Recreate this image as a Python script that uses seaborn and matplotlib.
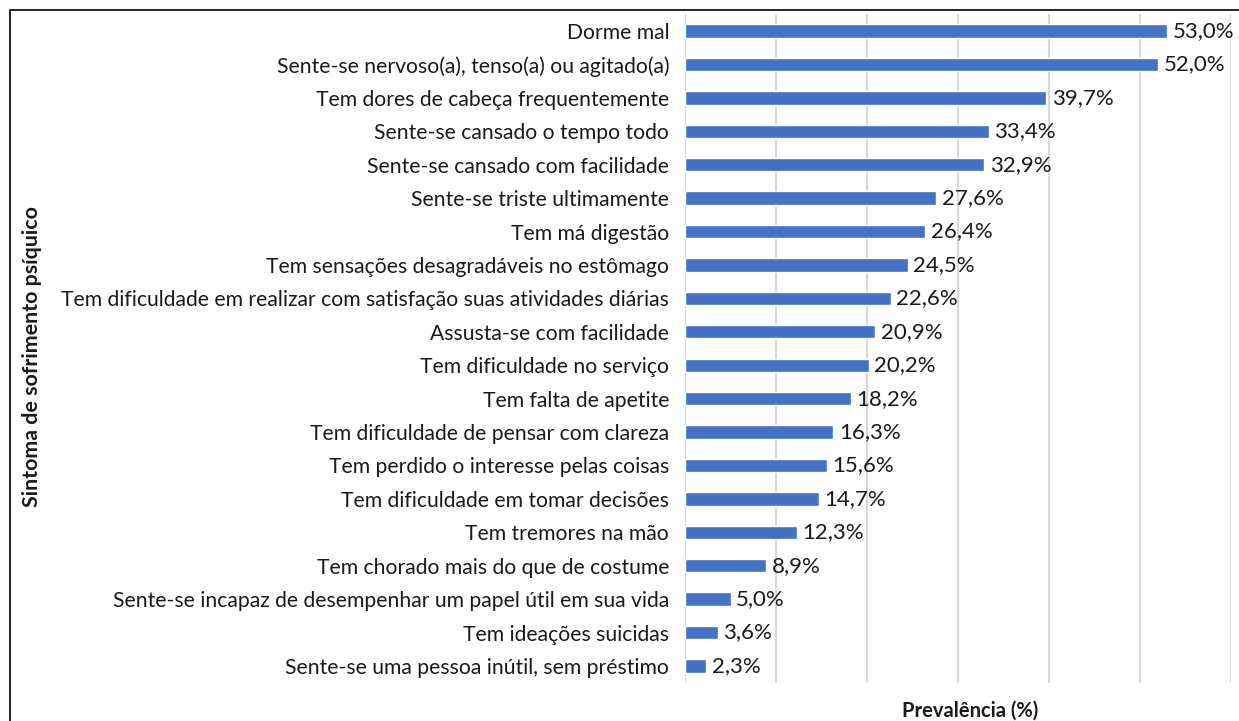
import matplotlib
matplotlib.use('Agg')
import matplotlib.pyplot as plt
import seaborn as sns
import pandas as pd
from matplotlib.patches import Rectangle

sintomas = [
    'Dorme mal',
    'Sente-se nervoso(a), tenso(a) ou agitado(a)',
    'Tem dores de cabeça frequentemente',
    'Sente-se cansado o tempo todo',
    'Sente-se cansado com facilidade',
    'Sente-se triste ultimamente',
    'Tem má digestão',
    'Tem sensações desagradáveis no estômago',
    'Tem dificuldade em realizar com satisfação suas atividades diárias',
    'Assusta-se com facilidade',
    'Tem dificuldade no serviço',
    'Tem falta de apetite',
    'Tem dificuldade de pensar com clareza',
    'Tem perdido o interesse pelas coisas',
    'Tem dificuldade em tomar decisões',
    'Tem tremores na mão',
    'Tem chorado mais do que de costume',
    'Sente-se incapaz de desempenhar um papel útil em sua vida',
    'Tem ideações suicidas',
    'Sente-se uma pessoa inútil, sem préstimo',
]
prevalencia = [53.0, 52.0, 39.7, 33.4, 32.9, 27.6, 26.4, 24.5, 22.6, 20.9,
               20.2, 18.2, 16.3, 15.6, 14.7, 12.3, 8.9, 5.0, 3.6, 2.3]

df = pd.DataFrame({'sintoma': sintomas, 'prev': prevalencia})

sns.set_theme(style='white')
plt.rcParams['font.family'] = ['Lato', 'DejaVu Sans']

fig = plt.figure(figsize=(12.39, 7.21), dpi=100)
ax = fig.add_axes([0.553, 0.0531, 0.4405, 0.9271])

sns.barplot(data=df, x='prev', y='sintoma', orient='h', color='#4472C4',
            saturation=1, width=0.4, ax=ax)

ax.set_xlim(0, 60)
ax.set_ylim(len(sintomas) - 0.5, -0.5)
ax.set_xticks(range(0, 61, 10))
ax.set_xticklabels([])
ax.xaxis.grid(True, color='#D9D9D9', linewidth=1.5)
ax.set_axisbelow(True)
for s in ax.spines.values():
    s.set_visible(False)
ax.tick_params(axis='y', length=0, pad=11.5, labelsize=15.2, labelcolor='#1a1a1a')
ax.tick_params(axis='x', length=0)
ax.set_xlabel('')
ax.set_ylabel('')

# value labels, comma as decimal separator
for i, v in enumerate(prevalencia):
    ax.text(v + 0.6, i, f'{v:.1f}%'.replace('.', ','), va='center', ha='left',
            fontsize=16, color='#1a1a1a')

fig.text(0.783, 0.015, 'Prevalência (%)', ha='center', va='center',
         fontsize=14.5, fontweight='bold', color='#1a1a1a')
fig.text(0.026, 0.505, 'Sintoma de sofrimento psíquico', ha='center', va='center',
         rotation=90, fontsize=15.4, fontweight='bold', color='#1a1a1a')

# outer frame (right and bottom edges fall outside the picture)
fig.patches.append(Rectangle((10 / 1239, -0.1), 1.2, 1 - 10 / 721 + 0.1,
                             transform=fig.transFigure, fill=False,
                             edgecolor='black', linewidth=1.2))

fig.savefig('out.png', dpi=100)
